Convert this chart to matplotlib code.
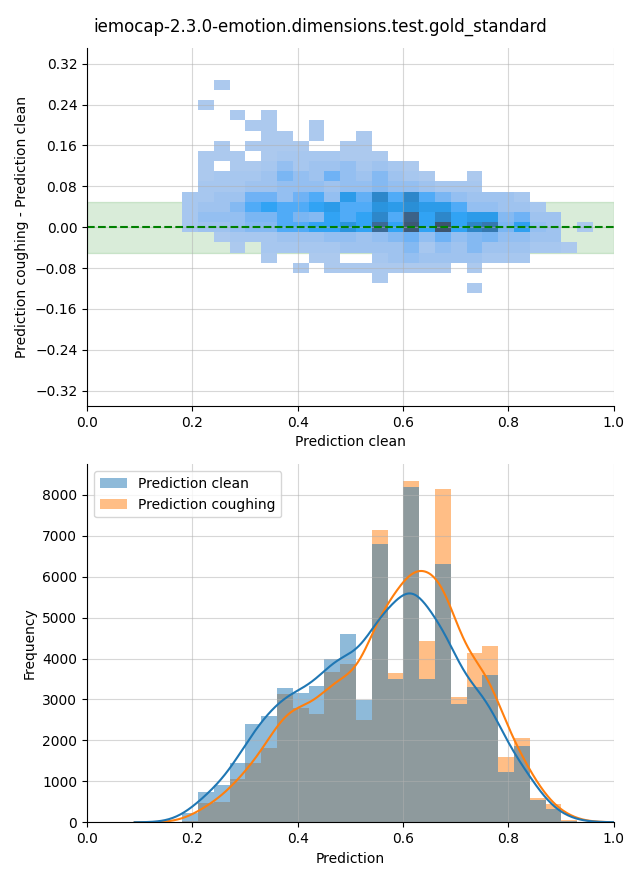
import numpy as np
import matplotlib
matplotlib.use("Agg")
import matplotlib.pyplot as plt
from matplotlib.colors import ListedColormap, to_rgb
from seaborn.external import husl

title = "iemocap-2.3.0-emotion.dimensions.test.gold_standard"

# 1d histogram of the predictions
bin_start = 0.1805
bin_width = 0.030
clean_counts = [234, 735, 907, 1460, 2410, 2590, 3290, 3170, 3330, 3980, 4590, 2980, 6790,
                3500, 8180, 3500, 6300, 2890, 3300, 3590, 1230, 1870, 545, 325, 40, 10]
coughing_counts = [40, 470, 490, 1060, 1450, 1810, 3130, 2800, 2640, 3670, 3860, 2500, 7130,
                   3640, 8330, 4420, 8150, 3060, 4130, 4300, 1590, 2060, 585, 450, 50, 10]

# 2d histogram: x = prediction clean, y = coughing - clean (top row first)
cell_x_start = 0.1805
cell_width = 0.030
cell_y_start = -0.1292
cell_height = 0.01989
cell_counts = [
    [0, 0, 2, 0, 0, 0, 0, 0, 0, 0, 0, 0, 0, 0, 0, 0, 0, 0, 0, 0, 0, 0, 0, 0, 0, 0],
    [0, 0, 0, 0, 0, 0, 0, 0, 0, 0, 0, 0, 0, 0, 0, 0, 0, 0, 0, 0, 0, 0, 0, 0, 0, 0],
    [0, 2, 0, 0, 0, 0, 0, 0, 0, 0, 0, 0, 0, 0, 0, 0, 0, 0, 0, 0, 0, 0, 0, 0, 0, 0],
    [0, 0, 0, 2, 0, 2, 0, 0, 0, 0, 0, 0, 0, 0, 0, 0, 0, 0, 0, 0, 0, 0, 0, 0, 0, 0],
    [0, 0, 0, 0, 2, 2, 0, 0, 2, 0, 0, 0, 0, 0, 0, 0, 0, 0, 0, 0, 0, 0, 0, 0, 0, 0],
    [0, 0, 0, 0, 0, 2, 2, 0, 2, 0, 0, 2, 0, 0, 0, 0, 0, 0, 0, 0, 0, 0, 0, 0, 0, 0],
    [0, 0, 2, 0, 2, 2, 2, 2, 0, 0, 2, 2, 0, 0, 0, 0, 0, 0, 0, 0, 0, 0, 0, 0, 0, 0],
    [0, 2, 2, 2, 0, 2, 4, 4, 4, 4, 2, 2, 2, 0, 0, 0, 0, 0, 0, 0, 0, 0, 0, 0, 0, 0],
    [0, 2, 0, 2, 2, 4, 11, 4, 7, 7, 11, 4, 7, 4, 2, 0, 0, 0, 0, 0, 0, 0, 0, 0, 0, 0],
    [0, 2, 4, 4, 4, 7, 19, 11, 7, 22, 11, 7, 16, 7, 4, 2, 0, 0, 2, 0, 0, 0, 0, 0, 0, 0],
    [0, 4, 4, 4, 7, 7, 11, 11, 11, 7, 11, 11, 16, 11, 11, 7, 4, 4, 4, 0, 0, 0, 0, 0, 0, 0],
    [4, 4, 7, 7, 22, 22, 11, 22, 29, 11, 42, 25, 58, 29, 58, 29, 19, 11, 7, 7, 7, 4, 0, 0, 0, 0],
    [4, 7, 7, 16, 29, 36, 29, 29, 36, 42, 29, 29, 48, 42, 52, 42, 42, 29, 11, 11, 7, 7, 4, 0, 0, 0],
    [4, 11, 11, 11, 19, 19, 29, 19, 16, 36, 29, 36, 58, 29, 88, 36, 58, 36, 42, 42, 16, 22, 7, 7, 0, 0],
    [4, 7, 7, 11, 16, 16, 29, 29, 36, 36, 48, 36, 82, 36, 96, 36, 100, 36, 60, 70, 19, 38, 11, 7, 0, 2],
    [0, 0, 2, 4, 4, 4, 7, 7, 7, 11, 11, 7, 11, 16, 22, 11, 22, 11, 16, 19, 11, 11, 7, 7, 0, 0],
    [0, 0, 0, 2, 0, 4, 4, 4, 4, 4, 7, 7, 7, 7, 16, 4, 11, 7, 16, 7, 7, 7, 4, 4, 2, 0],
    [0, 0, 0, 0, 0, 2, 0, 0, 2, 2, 0, 0, 4, 7, 11, 7, 7, 7, 7, 4, 4, 4, 0, 0, 0, 0],
    [0, 0, 0, 0, 0, 0, 0, 2, 0, 2, 2, 2, 2, 2, 2, 2, 2, 0, 2, 0, 0, 0, 0, 0, 0, 0],
    [0, 0, 0, 0, 0, 0, 0, 0, 0, 0, 0, 0, 2, 0, 0, 0, 0, 0, 0, 0, 0, 0, 0, 0, 0, 0],
    [0, 0, 0, 0, 0, 0, 0, 0, 0, 0, 0, 0, 0, 0, 0, 0, 0, 0, 2, 0, 0, 0, 0, 0, 0, 0],
]


def seed_cmap(color):
    # same kind of ramp seaborn uses for a bivariate histplot
    r, g, b = to_rgb(color)
    h, s, _ = husl.rgb_to_husl(r, g, b)
    xx = np.linspace(-1, 1, int(1.15 * 256))[:256]
    light = np.linspace(35, 80, 256)
    ramp = [husl.husl_to_rgb(h, s * np.cos(v), l) for v, l in zip(xx, light)]
    return ListedColormap(np.clip(ramp, 0, 1)[::-1])


def smooth(counts, edges, bw):
    # gaussian smoothing of the bar counts, in count units
    centers = (edges[:-1] + edges[1:]) / 2
    w = edges[1] - edges[0]
    grid = np.linspace(edges[0] - 3 * w, edges[-1] + 3 * w, 400)
    k = np.exp(-0.5 * ((grid[:, None] - centers[None, :]) / bw) ** 2) / (bw * np.sqrt(2 * np.pi))
    return grid, (k * np.asarray(counts)[None, :]).sum(axis=1) * w


fig = plt.figure(figsize=(6.4, 8.8), dpi=100)
ax1 = fig.add_axes([0.136, 0.5386, 0.823, 0.4065])
ax2 = fig.add_axes([0.136, 0.0656, 0.823, 0.4068])
fig.suptitle(title, fontsize=12)

# --- top: difference vs clean prediction ---
counts2d = np.array(cell_counts[::-1], dtype=float)
xe = cell_x_start + cell_width * np.arange(counts2d.shape[1] + 1)
ye = cell_y_start + cell_height * np.arange(counts2d.shape[0] + 1)
ax1.axhspan(-0.05, 0.05, color="green", alpha=0.15, zorder=0)
ax1.pcolormesh(xe, ye, np.ma.masked_equal(counts2d, 0), cmap=seed_cmap("C0"))
ax1.axhline(0, color="green", linestyle="--", linewidth=1.5)
ax1.set_xlim(0, 1)
ax1.set_ylim(-0.35, 0.35)
ax1.set_yticks(np.round(np.arange(-0.32, 0.33, 0.08), 2))
ax1.set_xlabel("Prediction clean")
ax1.set_ylabel("Prediction coughing - Prediction clean")
ax1.grid(alpha=0.5)

# --- bottom: histograms ---
edges = bin_start + bin_width * np.arange(len(clean_counts) + 1)
b_cough = ax2.bar(edges[:-1], coughing_counts, width=bin_width, align="edge",
                  color="C1", alpha=0.5, linewidth=0)
b_clean = ax2.bar(edges[:-1], clean_counts, width=bin_width, align="edge",
                  color="C0", alpha=0.5, linewidth=0)
gx, gy = smooth(coughing_counts, edges, 0.034)
ax2.plot(gx, gy, color="C1", linewidth=1.5)
gx, gy = smooth(clean_counts, edges, 0.034)
ax2.plot(gx, gy, color="C0", linewidth=1.5)
ax2.set_xlim(0, 1)
ax2.set_xlabel("Prediction")
ax2.set_ylabel("Frequency")
ax2.grid(alpha=0.5)
ax2.legend([b_clean, b_cough], ["Prediction clean", "Prediction coughing"], loc="upper left")

for ax in (ax1, ax2):
    ax.spines["top"].set_visible(False)
    ax.spines["right"].set_visible(False)

fig.savefig("out.png", dpi=100)
